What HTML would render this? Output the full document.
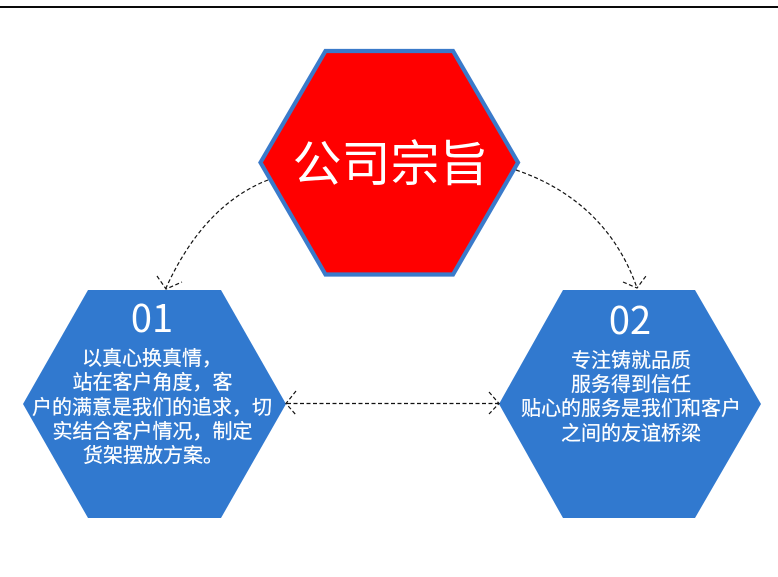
<!DOCTYPE html>
<html lang="zh">
<head>
<meta charset="utf-8">
<style>
html,body{margin:0;padding:0;background:#fff;width:778px;height:577px;overflow:hidden}
svg{display:block}
text{font-family:"Liberation Sans","Noto Sans CJK SC",sans-serif;fill:#fff;text-anchor:middle}
.cjk{font-family:"Noto Sans CJK SC",sans-serif}
.b{font-size:20px;font-family:"Noto Sans CJK SC",sans-serif;stroke:#fff;stroke-width:.2px}
.n{font-size:38px;font-family:"Noto Sans CJK SC",sans-serif}
.c{fill:none;stroke:#111;stroke-width:1.2;stroke-dasharray:4 2.5}
</style>
</head>
<body>
<svg width="778" height="577" viewBox="0 0 778 577" xmlns="http://www.w3.org/2000/svg">
<rect width="778" height="577" fill="#fff"/>
<rect x="0" y="6" width="778" height="2" fill="#0a0a0a"/>

<polygon points="260.5,162.5 325.5,51 453,51 518,162.5 453,274.5 325.5,274.5" fill="#ff0000" stroke="#3a7aca" stroke-width="4.2"/>
<polygon points="23,404 88,290 221,290 286,404 221,518 88,518" fill="#3179cf"/>
<polygon points="499,404 563,290 695,290 761,404 695,518 563,518" fill="#3179cf"/>

<path class="c" d="M268,180 C224,197 190,235 166,288"/>
<path class="c" d="M157,276 L166,289 L182,282"/>
<path class="c" d="M516,170 C575,190 617,230 637,288"/>
<path class="c" d="M623,282 L637,288 L646,276"/>
<path class="c" d="M287,403.5 L498,403.5"/>
<path class="c" d="M296,391 L286,403.5 L296,415"/>
<path class="c" d="M489,392 L499,403.5 L489,414"/>

<text class="cjk" x="390.5" y="181" font-size="49">公司宗旨</text>

<text class="n" x="152" y="332">01</text>
<text class="b" x="152" y="365">以真心换真情，</text>
<text class="b" x="152.5" y="389">站在客户角度，客</text>
<text class="b" x="152" y="414">户的满意是我们的追求，切</text>
<text class="b" x="152.5" y="438">实结合客户情况，制定</text>
<text class="b" x="153" y="462">货架摆放方案。</text>

<text class="n" x="630" y="334">02</text>
<text class="b" x="631" y="367">专注铸就品质</text>
<text class="b" x="631" y="391">服务得到信任</text>
<text class="b" x="631" y="415">贴心的服务是我们和客户</text>
<text class="b" x="631" y="440">之间的友谊桥梁</text>
</svg>
</body>
</html>
